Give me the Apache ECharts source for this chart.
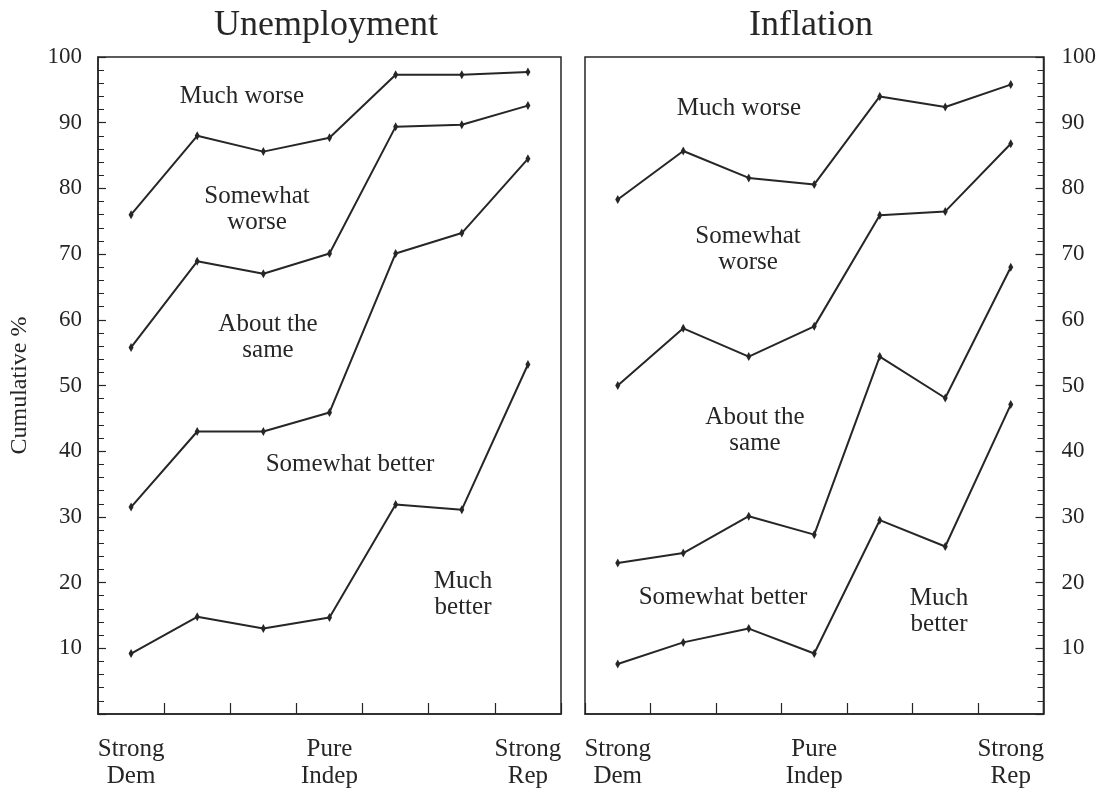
<!DOCTYPE html>
<html>
<head>
<meta charset="utf-8">
<title>Unemployment / Inflation</title>
<script src="https://cdn.jsdelivr.net/npm/echarts@6/dist/echarts.min.js"></script>
<style>
  html, body { margin: 0; padding: 0; background: #fff; }
  #main { width: 1099px; height: 794px; }
</style>
</head>
<body>
<div id="main"></div>
<script>
// party identification, 7-point scale
var categories = ['Strong Dem', 'Weak Dem', 'Indep Dem', 'Pure Indep', 'Indep Rep', 'Weak Rep', 'Strong Rep']
var tickLabels = ['Strong\nDem', '', '', 'Pure\nIndep', '', '', 'Strong\nRep']
var yTicks = [10, 20, 30, 40, 50, 60, 70, 80, 90, 100]

// cumulative % boundaries
var unempWorse = [76.0, 88.0, 85.6, 87.7, 97.3, 97.3, 97.7]
var unempSomeWorse = [55.8, 68.9, 67.0, 70.1, 89.4, 89.7, 92.6]
var unempSame = [31.5, 43.0, 43.0, 45.9, 70.1, 73.2, 84.5]
var unempSomeBetter = [9.2, 14.8, 13.0, 14.7, 31.9, 31.1, 53.2]

var inflWorse = [78.3, 85.7, 81.6, 80.6, 94.0, 92.4, 95.8]
var inflSomeWorse = [50.0, 58.7, 54.4, 59.0, 75.9, 76.5, 86.8]
var inflSame = [23.0, 24.5, 30.1, 27.3, 54.4, 48.1, 68.0]
var inflSomeBetter = [7.6, 10.9, 13.0, 9.2, 29.5, 25.5, 47.1]

var ink = '#262626'
var serif = '"Liberation Serif", "DejaVu Serif", serif'

function xAxisFor (gridIndex) {
  return {
    type: 'category',
    gridIndex: gridIndex,
    data: categories,
    boundaryGap: true,
    axisLine: { show: true, lineStyle: { color: ink, width: 1.5 } },
    axisTick: { show: true, inside: true, length: 11, lineStyle: { color: ink, width: 1.2 } },
    axisLabel: {
      interval: 0,
      margin: 22,
      color: ink,
      fontFamily: serif,
      fontSize: 25,
      lineHeight: 27,
      formatter: function (v, i) { return tickLabels[i] }
    },
    splitLine: { show: false }
  }
}

function yAxisFor (gridIndex, position) {
  var ax = {
    type: 'value',
    gridIndex: gridIndex,
    position: position,
    min: 0,
    max: 100,
    interval: 10,
    axisLine: { show: true, lineStyle: { color: ink, width: 1.5 } },
    axisTick: { show: true, inside: true, length: 8, lineStyle: { color: ink, width: 1.2 } },
    minorTick: { show: true, splitNumber: 5, length: 6, lineStyle: { color: ink, width: 1 } },
    axisLabel: {
      margin: position === 'left' ? 16 : 18,
      color: ink,
      fontFamily: serif,
      fontSize: 23,
      formatter: function (v) { return yTicks.indexOf(v) >= 0 ? String(v) : '' }
    },
    splitLine: { show: false }
  }
  if (position === 'left') {
    ax.name = 'Cumulative %'
    ax.nameLocation = 'middle'
    ax.nameGap = 66
    ax.nameRotate = 90
    ax.nameTextStyle = { color: ink, fontFamily: serif, fontSize: 24 }
  }
  return ax
}

function line (name, data, idx) {
  return {
    name: name,
    type: 'line',
    xAxisIndex: idx,
    yAxisIndex: idx,
    data: data,
    symbol: 'diamond',
    symbolSize: [5, 9],
    showSymbol: true,
    lineStyle: { color: ink, width: 2 },
    itemStyle: { color: ink },
    silent: true,
    z: 3
  }
}

function label (text, x, y, size) {
  return {
    type: 'text',
    x: x,
    y: y,
    style: {
      text: text,
      fill: ink,
      font: (size || 25) + 'px ' + serif,
      align: 'center',
      verticalAlign: 'middle',
      lineHeight: 26
    }
  }
}

var chart = echarts.init(document.getElementById('main'))
var option = {
  backgroundColor: '#fff',
  animation: false,
  grid: [
    { left: 98, top: 57, width: 463, height: 657, show: true, borderColor: ink, borderWidth: 1.5, backgroundColor: 'transparent' },
    { left: 585, top: 57, width: 459, height: 657, show: true, borderColor: ink, borderWidth: 1.5, backgroundColor: 'transparent' }
  ],
  xAxis: [xAxisFor(0), xAxisFor(1)],
  yAxis: [yAxisFor(0, 'left'), yAxisFor(1, 'right')],
  series: [
    line('Much worse', unempWorse, 0),
    line('Somewhat worse', unempSomeWorse, 0),
    line('About the same', unempSame, 0),
    line('Somewhat better', unempSomeBetter, 0),
    line('Much worse', inflWorse, 1),
    line('Somewhat worse', inflSomeWorse, 1),
    line('About the same', inflSame, 1),
    line('Somewhat better', inflSomeBetter, 1)
  ],
  graphic: [
    label('Unemployment', 326, 26, 36),
    label('Inflation', 811, 26, 36),
    // unemployment panel
    label('Much worse', 242, 96),
    label('Somewhat\nworse', 257, 209),
    label('About the\nsame', 268, 337),
    label('Somewhat better', 350, 464),
    label('Much\nbetter', 463, 594),
    // inflation panel
    label('Much worse', 739, 108),
    label('Somewhat\nworse', 748, 249),
    label('About the\nsame', 755, 430),
    label('Somewhat better', 723, 597),
    label('Much\nbetter', 939, 611)
  ]
}
chart.setOption(option)
window.addEventListener('resize', function () { chart.resize() })
</script>
</body>
</html>
